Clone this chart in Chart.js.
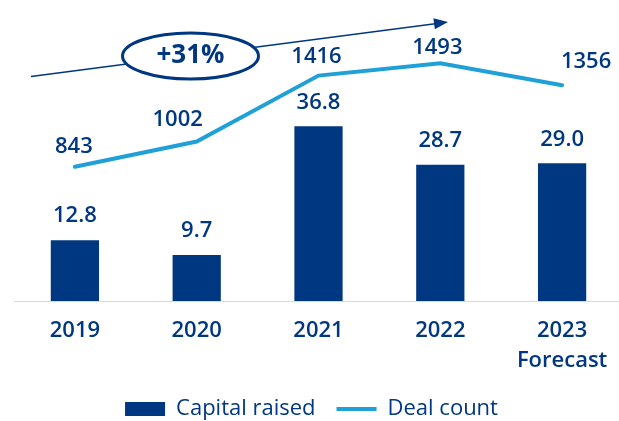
<!DOCTYPE html>
<html>
<head>
<meta charset="utf-8">
<script src="https://cdn.jsdelivr.net/npm/chart.js@4"></script>
<style>
  html, body { margin: 0; padding: 0; background: #fff; overflow: hidden; }
  #wrap { width: 619px; height: 421px; overflow: hidden; }
  #box { width: 623px; height: 430px; }
</style>
</head>
<body>
<div id="wrap"><div id="box"><canvas id="chart"></canvas></div></div>
<script>
const years = [['2019'], ['2020'], ['2021'], ['2022'], ['2023', 'Forecast']];
const capitalRaised = [12.8, 9.7, 36.8, 28.7, 29.0];
const dealCount = [843, 1002, 1416, 1493, 1356];
const growthLabel = '+31%';

const NAVY = '#003781';
const LIGHT = '#1fa0d6';
const FONT = "'Open Sans', 'Noto Sans', sans-serif";

Chart.defaults.font.family = FONT;
Chart.defaults.color = NAVY;

// label offsets from each deal-count point (the source places them by hand)
const dealLabelOffsets = [[-1, -20], [-19, -22], [-2, -19], [-3, -16], [24, -23]];

const labelsPlugin = {
  id: 'valueLabels',
  afterDatasetsDraw(chart) {
    const ctx = chart.ctx;
    ctx.save();
    ctx.fillStyle = NAVY;
    ctx.textAlign = 'center';
    ctx.textBaseline = 'middle';
    ctx.font = `600 22px ${FONT}`;
    chart.getDatasetMeta(0).data.forEach((bar, i) => {
      ctx.fillText(capitalRaised[i].toFixed(1), bar.x, bar.y - 24);
    });
    chart.getDatasetMeta(1).data.forEach((pt, i) => {
      const [dx, dy] = dealLabelOffsets[i];
      ctx.fillText(String(dealCount[i]), pt.x + dx, pt.y + dy);
    });

    // growth arrow with the ellipse callout
    ctx.strokeStyle = NAVY;
    ctx.fillStyle = NAVY;
    ctx.lineWidth = 1.5;
    ctx.beginPath();
    ctx.moveTo(31, 76.5);
    ctx.lineTo(437, 23.5);
    ctx.stroke();
    const ang = Math.atan2(23.5 - 76.5, 437 - 31);
    ctx.save();
    ctx.translate(448, 22);
    ctx.rotate(ang);
    ctx.beginPath();
    ctx.moveTo(0, 0);
    ctx.lineTo(-14, -5.5);
    ctx.lineTo(-14, 5.5);
    ctx.closePath();
    ctx.fill();
    ctx.restore();

    ctx.beginPath();
    ctx.ellipse(190.5, 56, 68, 23, 0, 0, Math.PI * 2);
    ctx.fillStyle = '#fff';
    ctx.fill();
    ctx.lineWidth = 3;
    ctx.stroke();
    ctx.fillStyle = NAVY;
    ctx.font = `700 26px ${FONT}`;
    ctx.fillText(growthLabel, 190.5, 56);
    ctx.restore();
  }
};

new Chart(document.getElementById('chart'), {
  data: {
    labels: years,
    datasets: [
      {
        type: 'bar',
        label: 'Capital raised',
        data: capitalRaised,
        backgroundColor: NAVY,
        borderWidth: 0,
        yAxisID: 'y',
        categoryPercentage: 1,
        barPercentage: 0.396,
        pointStyle: 'rect',
      },
      {
        type: 'line',
        label: 'Deal count',
        data: dealCount,
        borderColor: LIGHT,
        backgroundColor: LIGHT,
        borderWidth: 4,
        borderCapStyle: 'round',
        pointRadius: 0,
        tension: 0,
        yAxisID: 'y1',
        pointStyle: 'line',
      },
    ],
  },
  options: {
    responsive: true,
    maintainAspectRatio: false,
    animation: false,
    layout: { padding: 0 },
    plugins: {
      tooltip: { enabled: false },
      legend: {
        position: 'bottom',
        labels: {
          usePointStyle: true,
          pointStyleWidth: 40,
          boxHeight: 14,
          padding: 21,
          color: NAVY,
          font: { size: 22, weight: 500 },
        },
      },
    },
    scales: {
      x: {
        offset: true,
        grid: { display: false, drawTicks: false },
        border: { display: true, color: '#c5dcf3', width: 1 },
        ticks: {
          padding: 14,
          color: NAVY,
          maxRotation: 0,
          font: { size: 22, weight: 600, lineHeight: 1.4 },
        },
        afterFit: (scale) => { scale.height = 76; },
      },
      y: {
        min: 0,
        max: 63.4,
        grid: { display: false },
        border: { display: false },
        ticks: { display: false },
        afterFit: (scale) => { scale.width = 14; },
      },
      y1: {
        display: false,
        min: 0,
        max: 1891,
      },
    },
  },
  plugins: [labelsPlugin],
});
</script>
</body>
</html>
